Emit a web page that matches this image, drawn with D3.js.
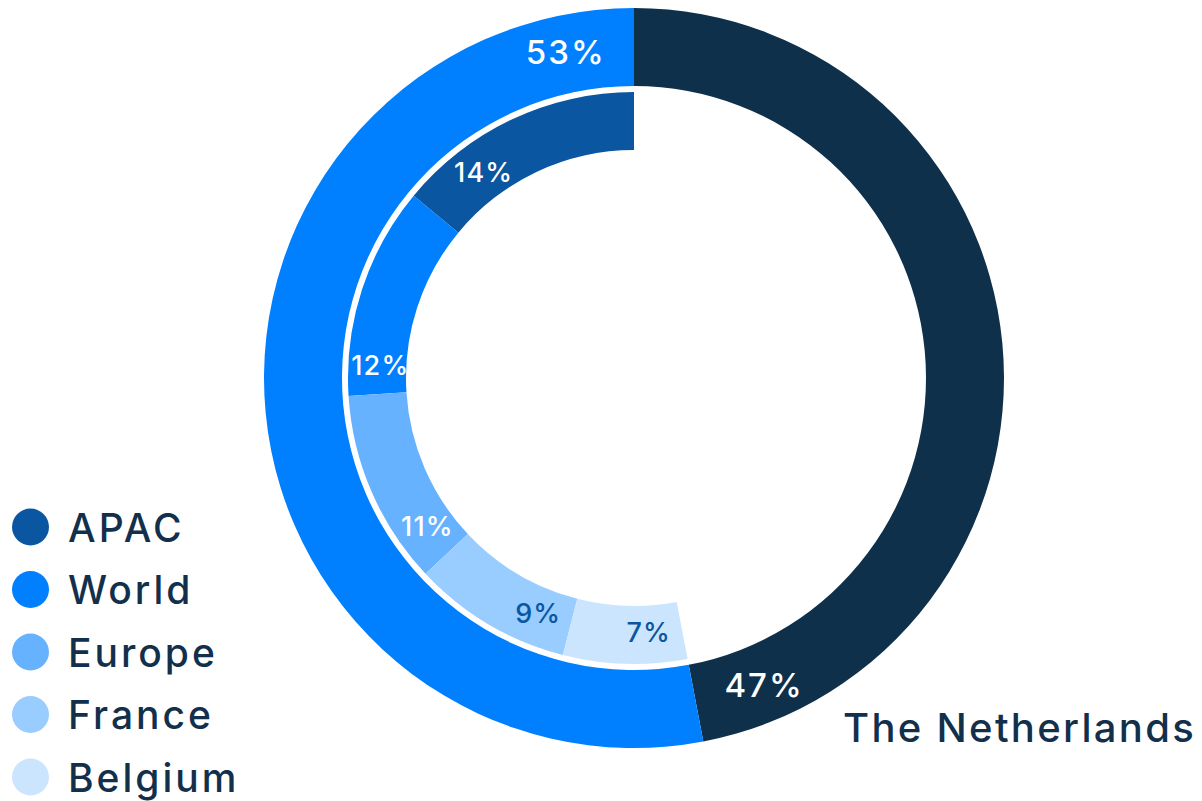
<!DOCTYPE html>
<html>
<head>
<meta charset="utf-8">
<script src="https://cdn.jsdelivr.net/npm/d3@7"></script>
<style>
  html, body { margin: 0; padding: 0; background: #ffffff; }
  svg { display: block; }
  text { font-family: Inter, "Open Sans", sans-serif; }
</style>
</head>
<body>
<svg id="chart" width="1202" height="801"></svg>
<script>
// ---- data ----
const outerCategories = ["The Netherlands", "Other"];
const outerValues = [47, 53];
const outerColors = ["#0f304b", "#0080ff"];

const innerCategories = ["APAC", "World", "Europe", "France", "Belgium"];
const innerValues = [14, 12, 11, 9, 7];
const innerColors = ["#0a56a0", "#0080ff", "#66b2ff", "#99ccff", "#cce5ff"];
const innerLabelColors = ["#ffffff", "#ffffff", "#ffffff", "#0a56a0", "#0a56a0"];

const valueSuffix = "%";
const outerNameLabel = "The Netherlands";

// ---- layout ----
const svg = d3.select("#chart");
const cx = 634, cy = 378;
const outerR = 370, outerInner = 292;
const innerOuter = 286, innerInner = 228;
const textColor = "#12304b";
const TAU = Math.PI * 2;
const deg = Math.PI / 180;

const g = svg.append("g").attr("transform", `translate(${cx},${cy})`);

// angle scale: percent -> radians
const angle = d3.scaleLinear().domain([0, 100]).range([0, TAU]);

// outer ring: clockwise from 12 o'clock
const outerPie = d3.pie().sort(null).value(d => d)
  .startAngle(0).endAngle(TAU);
const outerArcs = outerPie(outerValues);
const outerArc = d3.arc().innerRadius(outerInner).outerRadius(outerR);

g.selectAll("path.outer").data(outerArcs).join("path")
  .attr("class", "outer")
  .attr("d", outerArc)
  .attr("fill", (d, i) => outerColors[i]);

// outer labels
g.selectAll("text.outerLabel").data(outerArcs).join("text")
  .attr("class", "outerLabel")
  .attr("x", d => Math.sin(d.endAngle - 12 * deg) * 333 + 1)
  .attr("y", d => -Math.cos(d.endAngle - 12 * deg) * 333)
  .attr("text-anchor", "middle")
  .attr("dominant-baseline", "central")
  .attr("fill", "#ffffff")
  .attr("font-size", 33)
  .attr("font-weight", 500)
  .attr("letter-spacing", 2)
  .text(d => d.data + valueSuffix);

// inner ring: counterclockwise from 12 o'clock
let acc = 100;
const innerArcs = innerValues.map((v, i) => {
  const end = acc;
  acc -= v;
  return { value: v, i, startAngle: angle(acc), endAngle: angle(end) };
});
const innerArc = d3.arc().innerRadius(innerInner).outerRadius(innerOuter);

g.selectAll("path.inner").data(innerArcs).join("path")
  .attr("class", "inner")
  .attr("d", innerArc)
  .attr("fill", d => innerColors[d.i]);

const innerLabelOffsetDeg = [14, 6.5, 7.7, 7.9, 7.7];
g.selectAll("text.innerLabel").data(innerArcs).join("text")
  .attr("class", "innerLabel")
  .attr("x", d => Math.sin(d.startAngle + innerLabelOffsetDeg[d.i] * deg) * 255 + 1)
  .attr("y", d => -Math.cos(d.startAngle + innerLabelOffsetDeg[d.i] * deg) * 255)
  .attr("text-anchor", "middle")
  .attr("dominant-baseline", "central")
  .attr("fill", d => innerLabelColors[d.i])
  .attr("font-size", 27)
  .attr("font-weight", 500)
  .attr("letter-spacing", 1.2)
  .text(d => d.value + valueSuffix);

// name label for the outer dark segment
svg.append("text")
  .attr("x", 843).attr("y", 742)
  .attr("fill", textColor)
  .attr("font-size", 40)
  .attr("font-weight", 500)
  .attr("letter-spacing", 2.3)
  .text(outerNameLabel);

// legend
const legendY = d3.scalePoint().domain(innerCategories).range([527, 777]);
const legend = svg.append("g");
const items = legend.selectAll("g").data(innerCategories).join("g")
  .attr("transform", d => `translate(0,${legendY(d)})`);
items.append("circle")
  .attr("cx", 30.5).attr("cy", 0).attr("r", 18.5)
  .attr("fill", (d, i) => innerColors[i]);
items.append("text")
  .attr("x", 68).attr("y", 0)
  .attr("dominant-baseline", "central")
  .attr("fill", textColor)
  .attr("font-size", 39)
  .attr("font-weight", 500)
  .attr("letter-spacing", 3)
  .text(d => d);
</script>
</body>
</html>
